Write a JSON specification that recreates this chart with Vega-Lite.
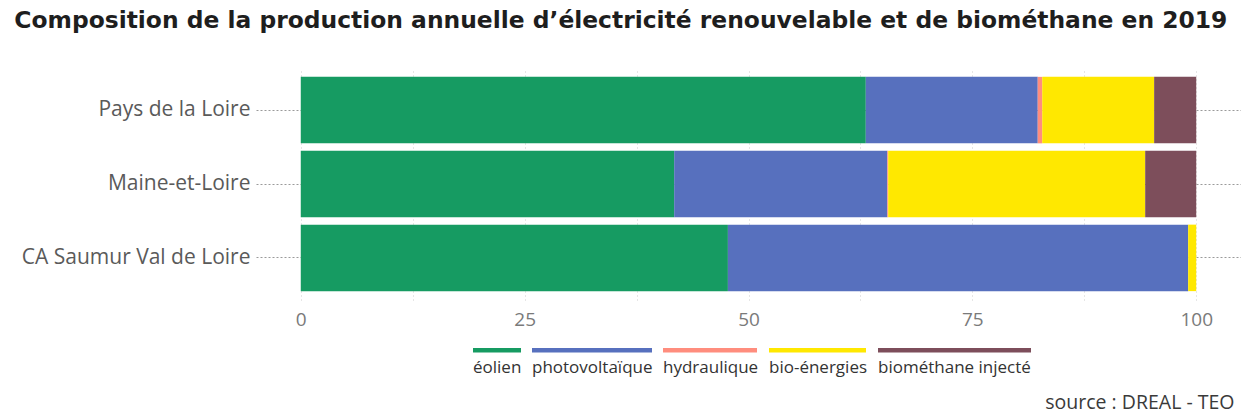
{
  "$schema": "https://vega.github.io/schema/vega-lite/v6.json",
  "width": 985,
  "height": 232,
  "padding": {"left": 14, "top": 8, "right": 0, "bottom": 0},
  "background": "white",
  "config": {
    "font": "Open Sans",
    "view": {"stroke": null}
  },
  "title": {
    "text": "Composition de la production annuelle d’électricité renouvelable et de biométhane en 2019",
    "anchor": "start",
    "frame": "bounds",
    "font": "DejaVu Sans",
    "fontSize": 23.4,
    "fontWeight": "bold",
    "color": "#1e1e1e",
    "dx": -7,
    "offset": 35
  },
  "data": {
    "values": [
      {"territoire": "Pays de la Loire", "filiere": "éolien", "part": 63.1},
      {"territoire": "Pays de la Loire", "filiere": "photovoltaïque", "part": 19.2},
      {"territoire": "Pays de la Loire", "filiere": "hydraulique", "part": 0.5},
      {"territoire": "Pays de la Loire", "filiere": "bio-énergies", "part": 12.5},
      {"territoire": "Pays de la Loire", "filiere": "biométhane injecté", "part": 4.7},
      {"territoire": "Maine-et-Loire", "filiere": "éolien", "part": 41.7},
      {"territoire": "Maine-et-Loire", "filiere": "photovoltaïque", "part": 23.8},
      {"territoire": "Maine-et-Loire", "filiere": "hydraulique", "part": 0.1},
      {"territoire": "Maine-et-Loire", "filiere": "bio-énergies", "part": 28.7},
      {"territoire": "Maine-et-Loire", "filiere": "biométhane injecté", "part": 5.7},
      {"territoire": "CA Saumur Val de Loire", "filiere": "éolien", "part": 47.7},
      {"territoire": "CA Saumur Val de Loire", "filiere": "photovoltaïque", "part": 51.4},
      {"territoire": "CA Saumur Val de Loire", "filiere": "hydraulique", "part": 0.0},
      {"territoire": "CA Saumur Val de Loire", "filiere": "bio-énergies", "part": 0.9},
      {"territoire": "CA Saumur Val de Loire", "filiere": "biométhane injecté", "part": 0.0}
    ]
  },
  "transform": [
    {"calculate": "indexof(['éolien', 'photovoltaïque', 'hydraulique', 'bio-énergies', 'biométhane injecté'], datum.filiere)", "as": "rang"}
  ],
  "mark": {"type": "bar"},
  "encoding": {
    "y": {
      "field": "territoire",
      "type": "nominal",
      "sort": ["Pays de la Loire", "Maine-et-Loire", "CA Saumur Val de Loire"],
      "scale": {"paddingInner": 0.1, "paddingOuter": 0.12},
      "axis": {
        "title": null,
        "ticks": false,
        "domain": false,
        "grid": true,
        "gridDash": [2, 2],
        "gridColor": "#9a9a9a",
        "gridWidth": 1,
        "labelFontSize": 21,
        "labelLimit": 400,
        "labelColor": "#5a5a5a",
        "labelPadding": 6
      }
    },
    "x": {
      "field": "part",
      "type": "quantitative",
      "stack": "zero",
      "scale": {"domain": [-5, 105], "nice": false, "zero": false},
      "axis": {
        "values": [0, 12.5, 25, 37.5, 50, 62.5, 75, 87.5, 100],
        "labelExpr": "datum.value % 25 === 0 ? datum.label : ''",
        "labelOverlap": false,
        "labelFlush": false,
        "ticks": false,
        "domain": false,
        "grid": true,
        "gridDash": [1, 3],
        "gridColor": "#cccccc",
        "labelFontSize": 19,
        "labelColor": "#7a7a7a",
        "labelPadding": 10,
        "title": "source : DREAL - TEO",
        "titleFontSize": 19.5,
        "titleFontWeight": "normal",
        "titleColor": "#3a3a3a",
        "titleAlign": "right",
        "titleAnchor": "end",
        "titleBaseline": "alphabetic",
        "titleX": 978,
        "titleY": 108
      }
    },
    "order": {"field": "rang", "type": "quantitative", "sort": "ascending"},
    "color": {
      "field": "filiere",
      "type": "nominal",
      "sort": ["éolien", "photovoltaïque", "hydraulique", "bio-énergies", "biométhane injecté"],
      "scale": {
        "domain": ["éolien", "photovoltaïque", "hydraulique", "bio-énergies", "biométhane injecté"],
        "range": ["#169B62", "#5770BE", "#FF8D7E", "#FFE800", "#7D4E5B"]
      },
      "legend": {
        "title": null,
        "orient": "none",
        "direction": "horizontal",
        "legendX": 217,
        "legendY": 290,
        "symbolSize": 400,
        "symbolStrokeWidth": 0,
        "labelOffset": -20,
        "columnPadding": 10,
        "labelFontSize": 17,
        "labelColor": "#333333",
        "encode": {
          "symbols": {
            "update": {
              "shape": {
                "signal": "datum.value === 'éolien' ? 'M-1,-2H3.8V-1.55H-1Z' : datum.value === 'photovoltaïque' ? 'M-1,-2H11V-1.55H-1Z' : datum.value === 'hydraulique' ? 'M-1,-2H8.4V-1.55H-1Z' : datum.value === 'bio-énergies' ? 'M-1,-2H8.7V-1.55H-1Z' : 'M-1,-2H14.3V-1.55H-1Z'"
              },
              "strokeWidth": {"value": 0}
            }
          }
        }
      }
    }
  }
}
